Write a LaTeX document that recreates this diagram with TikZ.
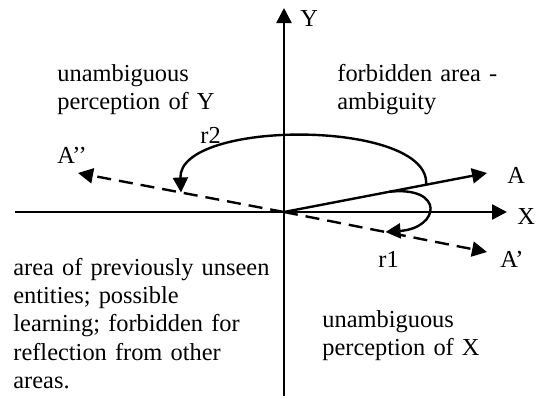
\documentclass[tikz,border=0pt]{standalone}
\usepackage{fontspec}
\setmainfont{Liberation Serif}
\usetikzlibrary{arrows.meta,calc}
\tikzset{
  axis/.style={
    line width=1.2pt,
    -{Triangle[length=7.5pt,width=7.5pt]}
  },
  vec/.style={
    line width=1.2pt,
    -{Triangle[length=7.5pt,width=7.5pt]}
  },
  mirror/.style={
    vec,
    dash pattern=on 7pt off 4pt
  },
  turn/.style={
    vec
  },
  lbl/.style={
    anchor=base west,
    inner sep=0pt,
    font=\fontsize{12.2}{14.2}\selectfont
  },
  area/.style={
    lbl,
    align=left,
    text width=140pt
  }
}
\begin{document}
\begin{tikzpicture}[x=0.5pt,y=-0.5pt]
\useasboundingbox (0,0) rectangle (536,398);
\coordinate (O) at (284,212);
\coordinate (xl) at (15,212);
\coordinate (xr) at (507,212);
\coordinate (yb) at (284,396);
\coordinate (yt) at (284,8);
\coordinate (a) at (487,173);
\coordinate (a1) at (487,252);
\coordinate (a2) at (78,173);
\coordinate (r2s) at ($(O)!0.70!(a)$);
\coordinate (r2e) at ($(O)!0.50!(a2)$);
\coordinate (r1s) at ($(O)!0.52!(a)$);
\coordinate (r1e) at ($(O)!0.50!(a1)$);
\draw[axis] (xl) -- (xr);
\draw[axis] (yb) -- (yt);
\draw[vec] (O) -- (a);
\draw[mirror] (O) -- (a1);
\draw[mirror] (O) -- (a2);
\draw[turn] (r2s) .. controls (431,119) and (178,119) .. (r2e);
\draw[turn] (r1s) .. controls (445,186) and (440,228) .. (r1e);
\node[lbl] (ylab) at (300,26) {Y};
\node[lbl] (xlab) at (517,224) {X};
\node[lbl] (alab) at (507,183) {A};
\node[lbl] (a1lab) at (500,267) {A’};
\node[lbl] (a2lab) at (57,163) {A’’};
\node[lbl] (r2lab) at (200,143) {r2};
\node[lbl] (r1lab) at (378,267) {r1};
\node[area] (nw) at (57,81) {unambiguous\\perception of Y};
\node[area] (ne) at (337,81) {\makebox[80pt][s]{forbidden area -}\\ambiguity};
\node[area] (sw) at (13,275) {area of previously unseen\\entities; possible\\learning; forbidden for\\reflection from other\\areas.};
\node[area] (se) at (322,327) {unambiguous\\perception of X};
\end{tikzpicture}
\end{document}
